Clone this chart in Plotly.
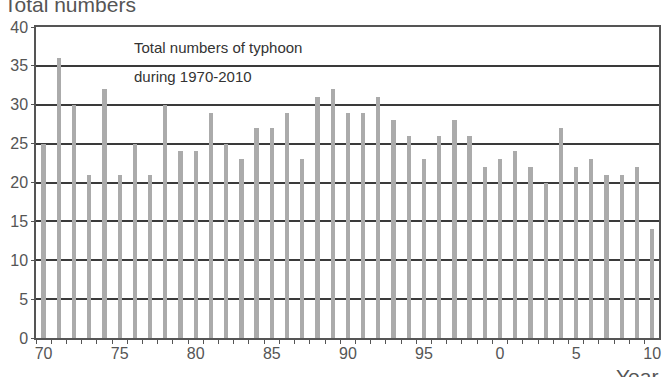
import plotly.graph_objects as go

years = list(range(1970, 2011))
counts = [25, 36, 30, 21, 32, 21, 25, 21, 30, 24,
          24, 29, 25, 23, 27, 27, 29, 23, 31, 32,
          29, 29, 31, 28, 26, 23, 26, 28, 26, 22,
          23, 24, 22, 20, 27, 22, 23, 21, 21, 22,
          14]
tick_years = [1970, 1975, 1980, 1985, 1990, 1995, 2000, 2005, 2010]
tick_text = ["70", "75", "80", "85", "90", "95", "0", "5", "10"]
y_ticks = [0, 5, 10, 15, 20, 25, 30, 35, 40]

fig = go.Figure()
fig.add_trace(go.Bar(x=years, y=counts, width=0.28,
                     marker=dict(color="#ababab", line=dict(width=0))))

font_family = "Liberation Sans, Arial, sans-serif"
fig.update_layout(
    width=664, height=377,
    margin=dict(l=36, r=3, t=27, b=39),
    paper_bgcolor="white", plot_bgcolor="white",
    showlegend=False,
    font=dict(family=font_family, size=16, color="#555555"),
    bargap=0,
    xaxis=dict(range=[1969.5, 2010.45], tickmode="array", tickvals=tick_years,
               ticktext=tick_text, ticks="", showgrid=False, zeroline=False,
               showline=True, linecolor="#555555", linewidth=1.5, mirror=True,
               tickfont=dict(size=16, color="#555555"),
               minor=dict(tickmode="linear", tick0=1969.5, dtick=1, ticks="outside",
                          ticklen=4, tickcolor="#555555", tickwidth=1, showgrid=False)),
    yaxis=dict(range=[0, 40], tickmode="array", tickvals=y_ticks, ticks="outside",
               ticklen=3, tickcolor="#555555", showgrid=True, gridcolor="#3a3a3a",
               gridwidth=1.6, zeroline=False, showline=True, linecolor="#555555",
               linewidth=1.5, mirror=True, tickfont=dict(size=16, color="#555555")),
    annotations=[
        dict(text="Total numbers", xref="paper", yref="paper", x=(2 - 36) / 626,
             y=(338 - 4) / 311, xanchor="left", yanchor="middle", showarrow=False,
             font=dict(size=21, color="#555555")),
        dict(text="Year", xref="paper", yref="paper", x=(617 - 36) / 626,
             y=-(376 - 338) / 311, xanchor="left", yanchor="middle", showarrow=False,
             font=dict(size=21, color="#555555")),
        dict(text="Total numbers of typhoon", xref="paper", yref="paper",
             x=(132 - 36) / 626, y=(338 - 47) / 311, xanchor="left", yanchor="middle",
             showarrow=False, font=dict(size=15, color="#333333")),
        dict(text="during 1970-2010", xref="paper", yref="paper",
             x=(132 - 36) / 626, y=(338 - 76) / 311, xanchor="left", yanchor="middle",
             showarrow=False, font=dict(size=15, color="#333333")),
    ],
)

fig.write_html("out.html")
